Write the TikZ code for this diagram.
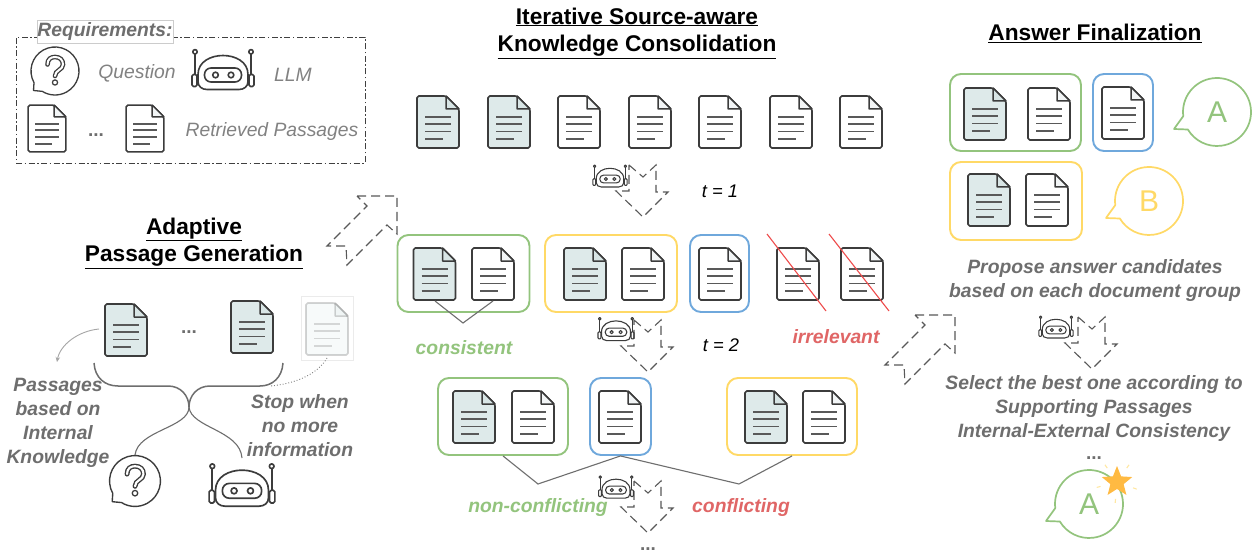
\documentclass[tikz,border=0pt]{standalone}
\usepackage{fontspec}
\setmainfont{Liberation Sans}
\usetikzlibrary{arrows.meta,shapes.geometric}
\definecolor{cgreen}{HTML}{93C47D}
\definecolor{cyellow}{HTML}{FFD966}
\definecolor{cblue}{HTML}{6FA8DC}
\definecolor{cred}{HTML}{E06666}
\definecolor{cstrike}{HTML}{EE4B4B}
\definecolor{cteal}{HTML}{DEEAEA}
\definecolor{cfold}{HTML}{BFCFD0}
\definecolor{cink}{HTML}{3C3C3C}
\definecolor{ctext}{HTML}{6E6E6E}
\definecolor{clabel}{HTML}{828282}
\tikzset{
  x=1pt,y=1pt,
  groupbox/.style={draw=#1,line width=1.9pt,rounded corners=11pt,inner sep=0pt,fill=none},
  titletext/.style={font=\fontsize{22.7}{27.5}\selectfont\bfseries,align=center,text=black},
  notetext/.style={font=\fontsize{19.3}{24}\selectfont\bfseries\itshape,align=center,text=ctext},
  reqtext/.style={font=\fontsize{19.3}{24}\selectfont\itshape,text=clabel},
  steptext/.style={font=\fontsize{18.3}{22}\selectfont\itshape,text=black},
  tagtext/.style={font=\fontsize{19.3}{24}\selectfont\bfseries\itshape,text=#1},
  dotstext/.style={font=\fontsize{19}{24}\selectfont\bfseries,text=ctext,inner sep=0pt},
  thinlink/.style={draw=ctext,line width=1.1pt},
  curvelink/.style={draw=ctext,line width=1.1pt},
  dashedarrow/.style={draw=black!65,line width=1.1pt,dash pattern=on 9pt off 5pt},
  pics/doc/.style={code={
    \draw[cink,line width=1.6pt,fill=#1,line join=round,rounded corners=1.8pt]
      (-21,26) -- (8,26) -- (21,13) -- (21,-26) -- (-21,-26) -- cycle;
    \draw[cink,line width=1.5pt,fill=#1!80!cfold,line join=round]
      (8,26) -- (8,13) -- (21,13) -- cycle;
    \draw[cink!85,line width=1.6pt]
      (-13,5) -- (13,5) (-13,-2) -- (13,-2) (-13,-9.5) -- (13,-9.5) (-13,-17) -- (5,-17);
  }},
  pics/robot/.style={code={
    \begin{scope}[scale=#1,line width=#1*1.2pt+.4pt,draw=cink,line join=round]
      \draw (-25,-5) .. controls (-25,8) and (-12,14) .. (0,14)
            .. controls (12,14) and (25,8) .. (25,-5) -- (25,-12)
            .. controls (25,-17) and (21,-20) .. (16,-20) -- (-16,-20)
            .. controls (-21,-20) and (-25,-17) .. (-25,-12) -- cycle;
      \draw[rounded corners=#1*1.5pt] (-31,-17) rectangle (-26,-5);
      \draw[rounded corners=#1*1.5pt] (26,-17) rectangle (31,-5);
      \draw (-28,-5) -- (-28,15.5) (28,-5) -- (28,15.5);
      \draw (-28,17.7) circle[radius=2.2pt] (28,17.7) circle[radius=2.2pt];
      \draw[rounded corners=#1*6.5pt] (-18.5,-12.5) rectangle (18.5,1.5);
      \draw (-7.5,-5.5) circle[radius=2.8pt] (8,-5.5) circle[radius=2.8pt];
    \end{scope}
  }},
  pics/askbubble/.style={code={
    \begin{scope}[scale=#1]
      \draw[cink,line width=#1*1.3pt,line join=round]
        (209:24pt) arc[start angle=209,end angle=-122,radius=24pt] -- (-21.5,-19.5) -- cycle;
      \draw[cink,line width=#1*4.6pt,line cap=round]
        (-7.5,6.5) .. controls (-7.5,12) and (-4,14) .. (0,14)
        .. controls (5,14) and (8,11) .. (8,6.5)
        .. controls (8,1) and (0,1) .. (0,-5);
      \draw[white,line width=#1*2pt,line cap=round]
        (-7.5,6.5) .. controls (-7.5,12) and (-4,14) .. (0,14)
        .. controls (5,14) and (8,11) .. (8,6.5)
        .. controls (8,1) and (0,1) .. (0,-5);
      \draw[cink,line width=#1*1.2pt] (0,-11.5) circle[radius=2.6pt];
    \end{scope}
  }},
  pics/answer/.style 2 args={code={
    \draw[#1,line width=1.7pt,line join=round]
      (187:34pt) arc[start angle=187,end angle=-149,radius=34pt] -- (-43,-17) -- cycle;
    \node[text=#1,font=\fontsize{30}{30}\selectfont] (-letter) at (0,0) {#2};
  }},
  pics/downarrow/.style={code={
    \draw[dashedarrow] (-14,26) -- (0,14) -- (13,26) -- (13,-1) -- (25,-1)
      -- (0,-26) -- (-27,0) -- (-14,0) -- cycle;
  }},
  pics/diagarrow/.style={code={
    \draw[dashedarrow] (-40,0) -- (0,0) -- (0,-38) -- (-10,-29) -- (-50,-69)
      -- (-51,-50) -- (-70,-50) -- (-30,-10) -- cycle;
  }},
}
\begin{document}
\begin{tikzpicture}
\useasboundingbox[fill=white] (0,0) rectangle (1255,-556);

% ---------- Requirements
\node[draw=black!75,dash pattern=on 6pt off 2.5pt on 1.5pt off 2.5pt,line width=.9pt,
  minimum width=349pt,minimum height=126pt,inner sep=0pt] (reqbox) at (190.5,-100) {};
\node[draw=black!20,fill=white,line width=.6pt,minimum width=136pt,minimum height=23pt,inner sep=0pt,
  font=\fontsize{19.3}{24}\selectfont\bfseries\itshape,text=ctext] (reqtitle) at (105,-32) {Requirements:};
\pic (reqask) at (55,-71) {askbubble=1};
\node[reqtext] (reqq) at (137,-73) {Question};
\pic (reqllm) at (223,-69.5) {robot=1};
\node[reqtext] (reqm) at (293,-75) {LLM};
\pic[scale=.9] (reqd1) at (47,-128.5) {doc=white};
\node[dotstext] (reqdots) at (96,-135.5) {...};
\pic[scale=.9] (reqd2) at (145,-128.5) {doc=white};
\node[reqtext] (reqp) at (272,-132) {Retrieved Passages};

% ---------- Adaptive Passage Generation
\node[titletext] (adapt) at (194,-243) {\underline{Adaptive}\\\underline{Passage Generation}};
\pic (ld1) at (126,-330) {doc=cteal};
\node[dotstext] (ldots) at (189,-332) {...};
\pic (ld2) at (252,-327) {doc=cteal};
\node[draw=black!8,line width=.6pt,minimum width=52pt,minimum height=64pt,inner sep=0pt] (ldframe) at (327,-328) {};
\begin{scope}[opacity=.22]
  \pic (ld3) at (327,-329) {doc=cteal};
\end{scope}
\node[notetext] (lnote) at (58,-423) {Passages\\based on\\Internal\\Knowledge};
\node[notetext] (rnote) at (300,-425.5) {Stop when\\no more\\information};
\pic (lask) at (135,-481) {askbubble=1.06};
\pic (lllm) at (242,-485) {robot=1.06};
\coordinate (cola) at (99,-329);
\coordinate (colb) at (57,-362);
\coordinate (bl) at (94,-363);
\coordinate (br) at (283,-363);
\coordinate (bm) at (189,-407);
\coordinate (bq) at (135,-455);
\coordinate (bm2) at (242,-458);
\coordinate (dota) at (327,-358);
\coordinate (dotb) at (270,-386);
\draw[draw=black!35,line width=.9pt,-{Stealth[length=5pt,width=4.5pt]}] (cola) .. controls (78,-331) and (60,-345) .. (colb);
\draw[draw=black!50,line width=.9pt,dotted] (dota) .. controls (318,-374) and (295,-384) .. (dotb);
\draw[curvelink,line width=1.5pt] (bl) .. controls (95,-378) and (105,-386) .. (118,-386) -- (168,-386)
  .. controls (181,-386) and (189,-396) .. (bm);
\draw[curvelink,line width=1.5pt] (br) .. controls (282,-378) and (272,-386) .. (260,-386) -- (210,-386)
  .. controls (197,-386) and (189,-396) .. (bm);
\draw[curvelink] (bm) .. controls (189,-428) and (138,-430) .. (bq);
\draw[curvelink] (bm) .. controls (191,-428) and (240,-430) .. (bm2);

\pic (diag1) at (397,-196) {diagarrow};

% ---------- Iterative Source-aware Knowledge Consolidation
\node[titletext] (iter) at (637,-33) {\underline{Iterative Source-aware}\\\underline{Knowledge Consolidation}};
\pic (t1) at (438,-122) {doc=cteal};
\pic (t2) at (509,-122) {doc=cteal};
\pic (t3) at (579,-122) {doc=white};
\pic (t4) at (650,-122) {doc=white};
\pic (t5) at (720,-122) {doc=white};
\pic (t6) at (791,-122) {doc=white};
\pic (t7) at (861,-122) {doc=white};
\pic (ar1) at (643,-191) {downarrow};
\pic (rb1) at (610,-176) {robot=.55};
\node[steptext] (step1) at (720,-191) {t = 1};

\node[groupbox=cgreen,minimum width=132pt,minimum height=77pt] (g21) at (463.5,-273.5) {};
\pic (d21) at (434.5,-274) {doc=cteal};
\pic (d22) at (493,-274) {doc=white};
\node[groupbox=cyellow,minimum width=132pt,minimum height=77pt] (g22) at (611,-273.5) {};
\pic (d23) at (585,-274) {doc=cteal};
\pic (d24) at (643,-274) {doc=white};
\node[groupbox=cblue,minimum width=59pt,minimum height=77pt] (g23) at (719.5,-273.5) {};
\pic (d25) at (720,-274) {doc=white};
\pic (d26) at (798,-274) {doc=white};
\pic (d27) at (862,-274) {doc=white};
\coordinate (x1a) at (767,-234);
\coordinate (x1b) at (826,-311);
\coordinate (x2a) at (829,-234);
\coordinate (x2b) at (889,-311);
\draw[cstrike,line width=1.1pt] (x1a) -- (x1b);
\draw[cstrike,line width=1.1pt] (x2a) -- (x2b);
\coordinate (va) at (435,-301);
\coordinate (vb) at (463,-323);
\coordinate (vc) at (493,-301);
\draw[thinlink] (va) -- (vb) -- (vc);
\node[tagtext=cgreen] (consistent) at (464,-347.5) {consistent};
\node[tagtext=cred] (irrelevant) at (836,-337) {irrelevant};
\pic (ar2) at (648,-346) {downarrow};
\pic (rb2) at (616,-329) {robot=.58};
\node[steptext] (step2) at (721,-345) {t = 2};

\node[groupbox=cgreen,minimum width=130pt,minimum height=77pt] (g31) at (503,-416.5) {};
\pic (d31) at (474,-417) {doc=cteal};
\pic (d32) at (533,-417) {doc=white};
\node[groupbox=cblue,minimum width=61pt,minimum height=77pt] (g32) at (620.5,-416.5) {};
\pic (d33) at (620,-417) {doc=white};
\node[groupbox=cyellow,minimum width=130pt,minimum height=77pt] (g33) at (792,-416.5) {};
\pic (d34) at (766,-417) {doc=cteal};
\pic (d35) at (824,-417) {doc=white};
\coordinate (wb) at (538,-484);
\coordinate (wd) at (739,-484);
\draw[thinlink] (g31.south) -- (wb) -- (g32.south) -- (wd) -- (g33.south);
\node[tagtext=cgreen] (nonconf) at (538,-507.5) {non-conflicting};
\node[tagtext=cred] (conf) at (741,-507.5) {conflicting};
\pic (ar3) at (648,-507) {downarrow};
\pic (rb3) at (616,-487) {robot=.56};
\node[dotstext] (cdots) at (648,-549) {...};

% ---------- Answer Finalization
\pic (diag2) at (955,-315) {diagarrow};
\node[titletext] (final) at (1095,-33) {\underline{Answer Finalization}};
\node[groupbox=cgreen,minimum width=131pt,minimum height=77pt] (f1) at (1015.5,-112.5) {};
\pic (fd1) at (985,-114) {doc=cteal};
\pic (fd2) at (1049,-114) {doc=white};
\node[groupbox=cblue,minimum width=60pt,minimum height=77pt] (f2) at (1123,-112.5) {};
\pic (fd3) at (1123,-113) {doc=white};
\pic (ansa) at (1217,-112) {answer={cgreen}{A}};
\node[groupbox=cyellow,minimum width=132pt,minimum height=78pt] (f3) at (1016,-201) {};
\pic (fd4) at (989,-200) {doc=cteal};
\pic (fd5) at (1047,-200) {doc=white};
\pic (ansb) at (1149,-201) {answer={cyellow}{B}};
\node[notetext] (propose) at (1095,-280.5) {Propose answer candidates\\based on each document group};
\pic (ar4) at (1092,-343) {downarrow};
\pic (rb4) at (1056,-327) {robot=.55};
\node[notetext] (select) at (1094,-409) {Select the best one according to\\Supporting Passages\\Internal-External Consistency};
\node[dotstext] (fdots) at (1094,-458) {...};
\pic (ansc) at (1089,-504) {answer={cgreen}{A}};
\node[star,star points=5,star point ratio=2.3,fill=cyellow!65!orange,draw=none,minimum size=32pt,inner sep=0pt] (goldstar) at (1117,-482) {};
\foreach \a in {-95,-20,55,125,195} {
  \draw[cyellow!60,line width=1.1pt] (goldstar.center) ++(\a:17pt) -- ++(\a:4pt);
}
\end{tikzpicture}
\end{document}
